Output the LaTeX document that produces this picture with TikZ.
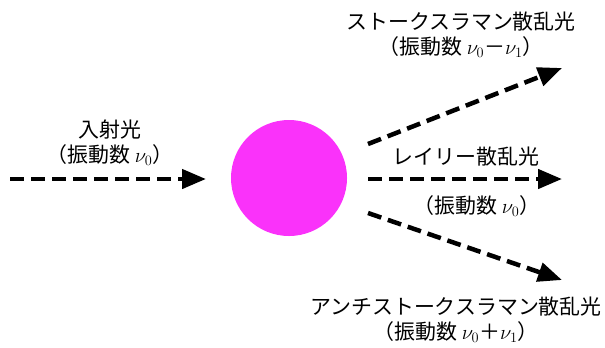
\documentclass[tikz,border=0pt]{standalone}
\usepackage{fontspec}
\usepackage{tikz}
\usetikzlibrary{arrows.meta,positioning}
\newfontfamily\jp{Noto Sans CJK JP}
\definecolor{pinkball}{RGB}{250,50,250}

\begin{document}
\begin{tikzpicture}[x=1bp,y=-1bp,
    l/.style={font=\jp\fontsize{21}{25}\selectfont,align=center,inner sep=0pt},
    a/.style={-{Triangle[length=24bp,width=19bp]},line width=4.5bp,
      dash pattern=on 14bp off 7bp}]
    \useasboundingbox (0,0) rectangle (605,347);
    \node[circle,fill=pinkball,minimum size=116bp,inner sep=0pt] (mol) at (289,178) {};
    % incoming light
    \coordinate (in) at (10,179);
    \coordinate (inend) at (206,179);
    \draw[a](in)--(inend);
    \node[l] (inlbl) at (110,143) {入射光\\（振動数 $\nu_0$）};
    % scattered light
    \coordinate (s0) at (368,144);\coordinate (s1) at (562,68);
    \coordinate (r0) at (368,179);\coordinate (r1) at (562,179);
    \coordinate (a0) at (368,213);\coordinate (a1) at (562,280);
    \draw[a](s0)--(s1);\draw[a](r0)--(r1);\draw[a](a0)--(a1);
    \node[l] (stokes) at (461,35) {ストークスラマン散乱光\\（振動数 $\nu_0$－$\nu_1$）};
    \node[l] (ray) at (466,157) {レイリー散乱光};
    \node[l] (raynu) at (477,206) {（振動数 $\nu_0$）};
    \node[l] (anti) at (456,320) {アンチストークスラマン散乱光\\（振動数 $\nu_0$＋$\nu_1$）};
  \end{tikzpicture}
\end{document}
